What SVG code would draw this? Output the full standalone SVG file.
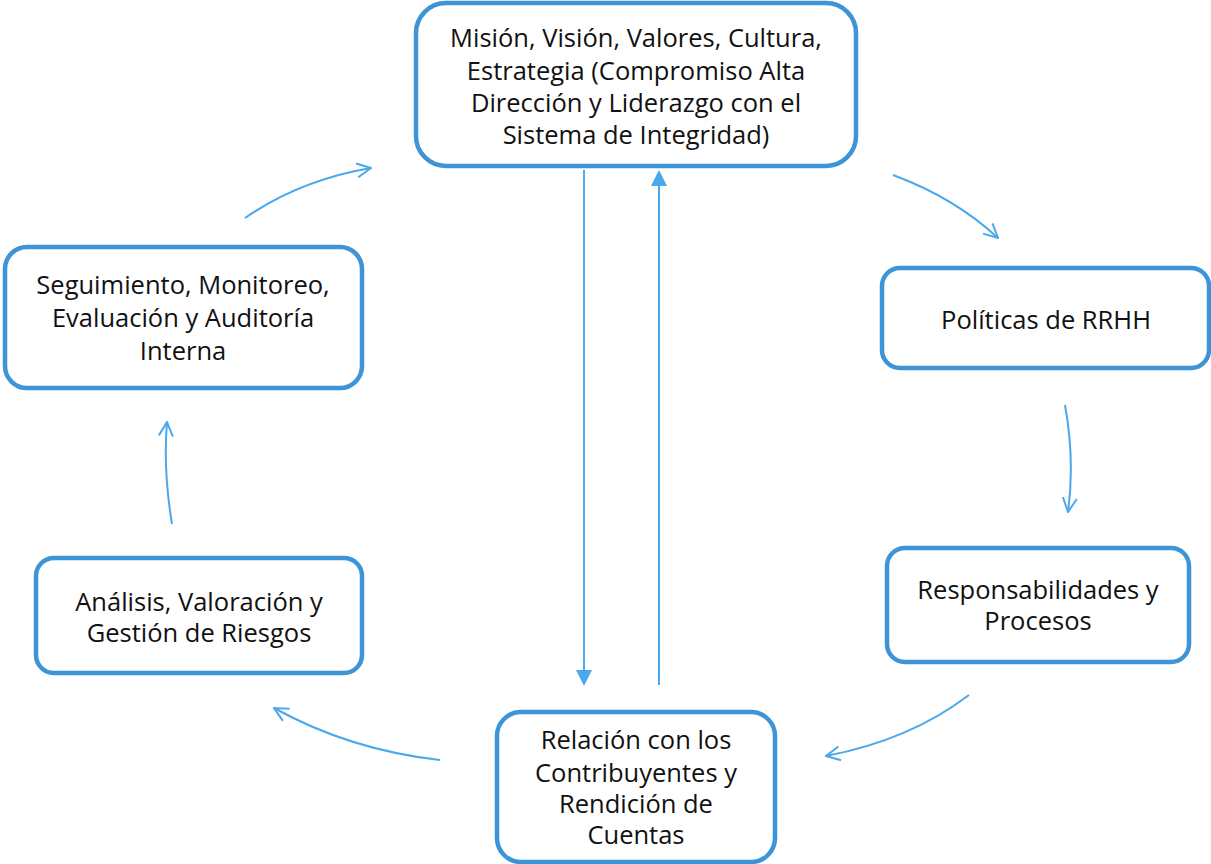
<svg xmlns="http://www.w3.org/2000/svg" width="1211" height="864" viewBox="0 0 1211 864">
<style>
.box{fill:#fff;stroke:#3D94D6;stroke-width:4.5}
.t{font-family:"Open Sans",Lato,sans-serif;font-size:25.5px;fill:#111;text-anchor:middle}
.c{fill:none;stroke:#4BA8EC;stroke-width:2}
</style>
<defs>
<marker id="open" viewBox="0 0 16 16" refX="15" refY="8" markerWidth="16" markerHeight="16" markerUnits="userSpaceOnUse" orient="auto">
<path d="M1,1 L15,8 L1,15" fill="none" stroke="#4BA8EC" stroke-width="2"/>
</marker>
<marker id="fill" viewBox="0 0 16 16" refX="8" refY="8" markerWidth="16" markerHeight="16" markerUnits="userSpaceOnUse" orient="auto">
<path d="M0,0 L16,8 L0,16 Z" fill="#4BA8EC"/>
</marker>
</defs>
<rect width="1211" height="864" fill="#fff"/>
<g id="connectors">
<path class="c" d="M893,175 Q955,198 998,238" marker-end="url(#open)"/>
<path class="c" d="M1065,405 Q1075,460 1068,512" marker-end="url(#open)"/>
<path class="c" d="M969,695 Q910,740 826,756" marker-end="url(#open)"/>
<path class="c" d="M440,760 Q350,750 274,708" marker-end="url(#open)"/>
<path class="c" d="M172,524 Q163,470 167,422" marker-end="url(#open)"/>
<path class="c" d="M245,218 Q300,180 371,168" marker-end="url(#open)"/>
<line class="c" x1="584" y1="170" x2="584" y2="678" marker-end="url(#fill)"/>
<line class="c" x1="659" y1="685" x2="659" y2="178" marker-end="url(#fill)"/>
</g>
<g id="n1">
<rect class="box" x="416" y="3" width="440" height="163" rx="30"/>
<text class="t" x="636" y="47">Misión, Visión, Valores, Cultura,</text>
<text class="t" x="636" y="80">Estrategia (Compromiso Alta</text>
<text class="t" x="636" y="112">Dirección y Liderazgo con el</text>
<text class="t" x="636" y="144">Sistema de Integridad)</text>
</g>
<g id="n2">
<rect class="box" x="882" y="268" width="327" height="100" rx="18"/>
<text class="t" x="1046" y="329">Políticas de RRHH</text>
</g>
<g id="n3">
<rect class="box" x="887" y="548" width="302" height="114" rx="18"/>
<text class="t" x="1038" y="599">Responsabilidades y</text>
<text class="t" x="1038" y="630">Procesos</text>
</g>
<g id="n4">
<rect class="box" x="497" y="712" width="278" height="150" rx="24"/>
<text class="t" x="636" y="749">Relación con los</text>
<text class="t" x="636" y="782">Contribuyentes y</text>
<text class="t" x="636" y="813">Rendición de</text>
<text class="t" x="636" y="844">Cuentas</text>
</g>
<g id="n5">
<rect class="box" x="36" y="558" width="326" height="115" rx="18"/>
<text class="t" x="199" y="611">Análisis, Valoración y</text>
<text class="t" x="199" y="642">Gestión de Riesgos</text>
</g>
<g id="n6">
<rect class="box" x="5" y="247" width="357" height="141" rx="22"/>
<text class="t" x="183" y="294">Seguimiento, Monitoreo,</text>
<text class="t" x="183" y="327">Evaluación y Auditoría</text>
<text class="t" x="183" y="360">Interna</text>
</g>
</svg>
